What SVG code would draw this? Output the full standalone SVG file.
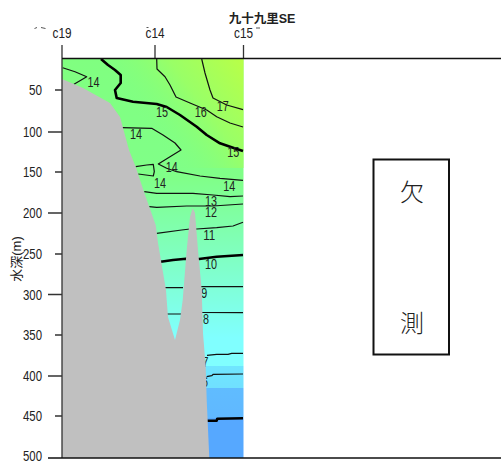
<svg xmlns="http://www.w3.org/2000/svg" width="501" height="461" viewBox="0 0 501 461">
<style>
text{font-family:"Liberation Sans","Noto Sans CJK JP",sans-serif;fill:#222}
.v{font-size:14px;text-anchor:middle}
.y{font-size:14px;text-anchor:end}
.c{fill:none;stroke:#111;stroke-width:1.2;stroke-linejoin:round}
.t{fill:none;stroke:#000;stroke-width:2.6;stroke-linejoin:round}
.a{stroke:#333;stroke-width:1.3;fill:none}
</style>
<defs>
<linearGradient id="w" gradientUnits="userSpaceOnUse" x1="0" y1="58" x2="0" y2="458">
<stop offset="0" stop-color="#80ff80"/>
<stop offset=".3" stop-color="#80ff88"/>
<stop offset=".45" stop-color="#80ffb4"/>
<stop offset=".6" stop-color="#80ffe0"/>
<stop offset=".7" stop-color="#80ffff"/>
<stop offset=".77" stop-color="#80ffff"/>
<stop offset=".77" stop-color="#70e6ff"/>
<stop offset=".825" stop-color="#70e0ff"/>
<stop offset=".825" stop-color="#60bcff"/>
<stop offset=".9" stop-color="#60b8ff"/>
<stop offset=".9" stop-color="#56a8ff"/>
<stop offset="1" stop-color="#56a8ff"/>
</linearGradient>
<linearGradient id="s" gradientUnits="userSpaceOnUse" x1="243" y1="62" x2="150" y2="132">
<stop offset="0" stop-color="#b8ff48"/>
<stop offset=".5" stop-color="#9cff64" stop-opacity=".9"/>
<stop offset="1" stop-color="#80ff80" stop-opacity="0"/>
</linearGradient>
</defs>
<g id="section">
<rect x="62" y="58" width="181.500" height="400" fill="url(#w)"/>
<rect x="62" y="58" width="181.500" height="110" fill="url(#s)"/>
</g>
<g id="contours">
<path class="c" d="M62.700 67.700L75 71.700L86.700 76.700L74 84.300"/>
<path class="t" d="M101 59L108 65L115 70L120.700 75L120.700 83L115 90L116.700 98L133 101.700L156.700 104L166.700 107L180 115L196.700 126.700L206.700 135L220 143.300L233 147.700L243 151"/>
<path class="c" d="M156.700 59L157 69L165 76.700L170 85L176 97L190 103L206.700 110L216.700 116.700L230 123L243 127"/>
<path class="c" d="M201.700 59L205 73L210 90L213 98L226.700 105L243 109.700"/>
<path class="c" d="M121.700 127.700L151.700 128.300L163 135L175 143L181 150L170 156.700L158.300 164L166.700 168.300L176.700 171.700L200 176L220 178.300L243 180.300"/>
<path class="c" d="M135.700 166.700L146.700 165L153.300 164.300L154.300 171.700L153.300 176L138.300 174"/>
<path class="c" d="M144.300 191.700L156.700 193.300L193 193.300L213 195L230 196.700L243 196"/>
<path class="c" d="M149.300 206.700L156.700 207.300L186.700 206L213 206L243 204"/>
<path class="c" d="M156.700 233.300L181.700 230L190 229L196.700 229L216.700 227.700L233 226L243 222.300"/>
<path class="t" d="M160.700 261.700L173 260L186 258.700L199 259L216.700 256.700L243 255"/>
<path class="c" d="M165 287.700L183 287.700M200 286.700L243 286.700"/>
<path class="c" d="M167 314L181 314M202 312.500L243 312.700"/>
<path class="c" d="M207 355.300L216.700 354.300L228 354.300L231.700 353.300L243 353.300"/>
<path class="c" d="M206.700 376.700L211.700 375.700L213.300 374.300L243 374"/>
<path class="t" d="M207.300 420.700L216.700 420.700L217.300 418.700L243 418.300"/>
</g>
<g id="contour-labels">
<text class="v" x="93.500" y="87" textLength="12" lengthAdjust="spacingAndGlyphs">14</text>
<text class="v" x="162" y="116.500" textLength="12" lengthAdjust="spacingAndGlyphs">15</text>
<text class="v" x="200.700" y="116.500" textLength="12" lengthAdjust="spacingAndGlyphs">16</text>
<text class="v" x="222.700" y="110.800" textLength="12" lengthAdjust="spacingAndGlyphs">17</text>
<text class="v" x="136" y="138.800" textLength="12" lengthAdjust="spacingAndGlyphs">14</text>
<text class="v" x="233.300" y="156.500" textLength="12" lengthAdjust="spacingAndGlyphs">15</text>
<text class="v" x="171.700" y="171.500" textLength="12" lengthAdjust="spacingAndGlyphs">14</text>
<text class="v" x="160" y="187.800" textLength="12" lengthAdjust="spacingAndGlyphs">14</text>
<text class="v" x="229.300" y="190.800" textLength="12" lengthAdjust="spacingAndGlyphs">14</text>
<text class="v" x="211" y="205.500" textLength="12" lengthAdjust="spacingAndGlyphs">13</text>
<text class="v" x="211" y="217" textLength="12" lengthAdjust="spacingAndGlyphs">12</text>
<text class="v" x="209.300" y="239.800" textLength="12" lengthAdjust="spacingAndGlyphs">11</text>
<text class="v" x="211" y="268.800" textLength="12" lengthAdjust="spacingAndGlyphs">10</text>
<text class="v" x="204.300" y="298" textLength="6" lengthAdjust="spacingAndGlyphs">9</text>
<text class="v" x="206" y="324" textLength="6" lengthAdjust="spacingAndGlyphs">8</text>
<text class="v" x="205.500" y="366.500" textLength="6" lengthAdjust="spacingAndGlyphs">7</text>
<text class="v" x="205" y="386.500" textLength="6" lengthAdjust="spacingAndGlyphs">6</text>
</g>
<g id="seabed">
<path fill="#c0c0c0" d="M62 79L83 88L110 103L120 117L129 150L135.700 167L144 192L155.700 225L158 243L166 290L166.700 300L168 317L175 340L180 320L182.700 300L186.700 250L190 217L192.700 208L195 213L198 250L202 293L202 300L203 333L205.700 367L206.700 400L209.300 458L62 458Z"/>
</g>
<g id="axes">
<path class="a" d="M62 45V458M155 45V58.500M243.500 45V58.500"/>
<path d="M62 58.500H501M48 458H501" stroke="#111" stroke-width="1.3" fill="none"/>
<path class="a" d="M55 90H62M48 132H62M55 172H62M48 213H62M55 254H62M48 294.500H62M55 335H62M48 376H62M55 416H62"/>
<path d="M34.500 28.500L37 27.500M41 27.500L45.500 28.500M146.500 27.500H148.500M256 28H260" stroke="#555" stroke-width="1" fill="none"/>
</g>
<g id="axis-labels">
<text class="v" x="62" y="37.500" textLength="19" lengthAdjust="spacingAndGlyphs">c19</text>
<text class="v" x="155" y="37.500" textLength="19" lengthAdjust="spacingAndGlyphs">c14</text>
<text class="v" x="243.500" y="37.500" textLength="19" lengthAdjust="spacingAndGlyphs">c15</text>
<text class="y" x="42" y="95" textLength="13" lengthAdjust="spacingAndGlyphs">50</text>
<text class="y" x="42" y="137" textLength="19" lengthAdjust="spacingAndGlyphs">100</text>
<text class="y" x="42" y="177" textLength="19" lengthAdjust="spacingAndGlyphs">150</text>
<text class="y" x="42" y="218" textLength="19" lengthAdjust="spacingAndGlyphs">200</text>
<text class="y" x="42" y="259" textLength="19" lengthAdjust="spacingAndGlyphs">250</text>
<text class="y" x="42" y="299.500" textLength="19" lengthAdjust="spacingAndGlyphs">300</text>
<text class="y" x="42" y="340" textLength="19" lengthAdjust="spacingAndGlyphs">350</text>
<text class="y" x="42" y="381" textLength="19" lengthAdjust="spacingAndGlyphs">400</text>
<text class="y" x="42" y="421" textLength="19" lengthAdjust="spacingAndGlyphs">450</text>
<text class="y" x="42" y="461" textLength="19" lengthAdjust="spacingAndGlyphs">500</text>
<text x="21" y="259" transform="rotate(-90 21 259)" text-anchor="middle" font-size="13">水深(m)</text>
<text x="262" y="22.500" text-anchor="middle" font-size="12.500" font-weight="bold">九十九里SE</text>
</g>
<g id="missing-box">
<rect x="373.500" y="159.500" width="75.500" height="195" fill="#fff" stroke="#111" stroke-width="2"/>
<text x="412" y="201" text-anchor="middle" font-size="24" font-weight="300">欠</text>
<text x="412" y="332" text-anchor="middle" font-size="24" font-weight="300">測</text>
</g>
</svg>
